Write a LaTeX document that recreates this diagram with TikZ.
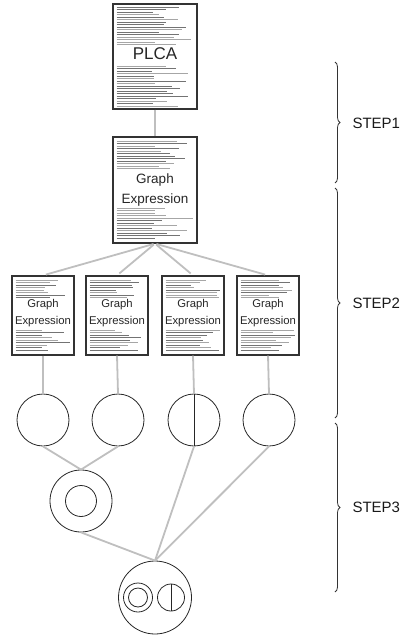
\documentclass[tikz,border=0pt]{standalone}
\usepackage{fontspec}
\setmainfont{Liberation Sans}
\usetikzlibrary{decorations.pathreplacing}
\newcommand\docfill[6]{%
  \pgfmathsetseed{#6}%
  \foreach \i in {0,...,#5}{%
    \pgfmathsetmacro\yy{#2+#4+2.5*\i}%
    \pgfmathsetmacro\ll{(#3-7)*(0.45+0.55*rnd)}%
    \pgfmathtruncatemacro\gg{rnd>0.5 ? 55 : 35}%
    \draw[black!\gg, line width=0.6pt] ({#1+3.5},\yy) -- ++(\ll,0);
  }}
\begin{document}
\begin{tikzpicture}[x=1pt,y=-1pt,
  docbox/.style={draw=black!80, line width=1.2pt, inner sep=0pt},
  conn/.style={draw=black!25, line width=1.8pt},
  ring/.style={circle, draw=black!85, line width=0.8pt, inner sep=0pt},
  bigtxt/.style={font=\fontsize{17}{19}\selectfont, text=black!85},
  midtxt/.style={font=\fontsize{13.5}{19.5}\selectfont, align=center, text=black!85},
  smalltxt/.style={font=\fontsize{11.3}{17}\selectfont, align=center, text=black!85},
  bracestyle/.style={draw=black!80, line width=0.8pt, decorate, decoration={brace, amplitude=5pt}},
  steplabel/.style={font=\fontsize{15}{17}\selectfont, anchor=west, text=black!90}]
\useasboundingbox (0,0) rectangle (405,636);

% documents
\node[docbox, minimum width=84, minimum height=105] (plca) at (155,56.5) {};
\docfill{113}{4}{84}{3}{15}{11}
\docfill{113}{4}{84}{62}{16}{12}
\node[bigtxt] (plcat) at (155,54) {PLCA};

\node[docbox, minimum width=84, minimum height=106] (ge) at (155,190) {};
\docfill{113}{137}{84}{4}{11}{21}
\docfill{113}{137}{84}{71}{12}{22}
\node[midtxt] (get) at (155,190) {Graph\\Expression};

\foreach \n/\x/\s in {1/43/31,2/117/41,3/193/51,4/268/61}{
  \node[docbox, minimum width=62, minimum height=79] (d\n) at (\x,315.5) {};
  \docfill{\x-31}{276}{62}{4}{7}{\s}
  \docfill{\x-31}{276}{62}{54}{8}{\s+5}
  \node[smalltxt] (dt\n) at (\x,313.5) {Graph\\Expression};
}

% circles
\node[ring, minimum size=52] (c1) at (43,420) {};
\node[ring, minimum size=52] (c2) at (118,420) {};
\node[ring, minimum size=52] (c3) at (194,420) {};
\node[ring, minimum size=52] (c4) at (269,420) {};
\draw[black!85, line width=0.8pt] (c3.north) -- (c3.south);

\node[ring, minimum size=62] (c5) at (81,501) {};
\node[ring, minimum size=31] (c5i) at (81,501) {};

\node[ring, minimum size=73] (c6) at (155,597.5) {};
\node[ring, minimum size=29] (c6a) at (138,597.5) {};
\node[ring, minimum size=19] (c6ai) at (138,597.5) {};
\node[ring, minimum size=27] (c6b) at (171,597.5) {};
\draw[black!85, line width=0.8pt] (c6b.north) -- (c6b.south);

% connectors
\draw[conn] (plca.south) -- (ge.north);
\foreach \n in {1,...,4}{
  \draw[conn, shorten <=1.5pt, shorten >=3pt] (ge.south) -- (d\n.north);
  \draw[conn] (d\n.south) -- (c\n.north);
}
\draw[conn] (c1.south) -- (c5.north);
\draw[conn] (c2.south) -- (c5.north);
\draw[conn] (c5.south) -- (c6.north);
\draw[conn] (c3.south) -- (c6.north);
\draw[conn] (c4.south) -- (c6.north);

% braces
\draw[bracestyle] (335,62) -- (335,183);
\node[steplabel] (s1) at (349,123) {STEP1};
\draw[bracestyle] (335,188) -- (335,418);
\node[steplabel] (s2) at (349,303) {STEP2};
\draw[bracestyle] (335,423) -- (335,592);
\node[steplabel] (s3) at (349,507.5) {STEP3};
\end{tikzpicture}
\end{document}
